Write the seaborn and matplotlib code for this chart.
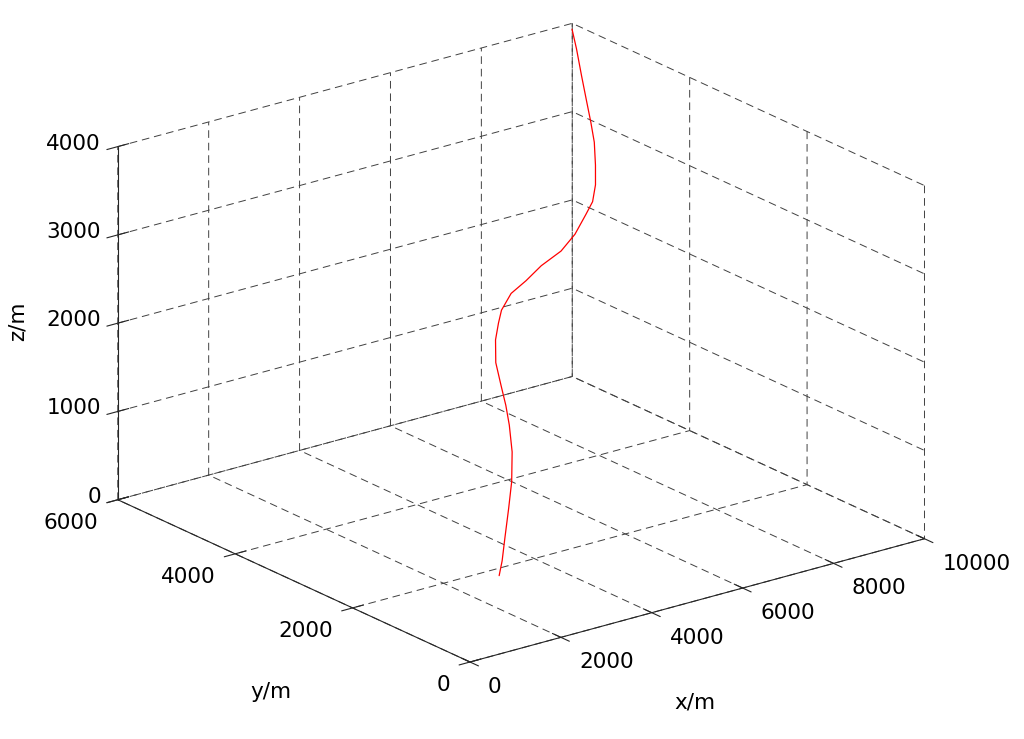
import matplotlib
matplotlib.use("Agg")
import matplotlib.pyplot as plt
import seaborn as sns
from mpl_toolkits.mplot3d import proj3d

# trajectory (metres)
x_m = [3000, 3200, 3480, 3850, 4180, 4500, 4750, 4910, 5060, 5230, 5470, 5690, 5870, 6180,
       6520, 6890, 7320, 7690, 8050, 8280, 8500, 8710, 8940, 9100, 9260, 9470, 9690, 9840]
y_m = [1826, 1930, 2100, 2322, 2526, 2766, 3008, 3191, 3389, 3610, 3800, 3920, 4008, 4084,
       4093, 4121, 4116, 4166, 4259, 4322, 4443, 4606, 4804, 4986, 5178, 5431, 5687, 5880]
z_m = [0, 108, 275, 492, 687, 904, 1099, 1244, 1389, 1555, 1721, 1844, 1938, 2061,
       2155, 2264, 2372, 2495, 2640, 2734, 2857, 3002, 3168, 3313, 3457, 3653, 3848, 3993]

x_ticks = [0, 2000, 4000, 6000, 8000, 10000]
y_ticks = [0, 2000, 4000, 6000]
z_ticks = [0, 1000, 2000, 3000, 4000]

sns.set_style("white")
plt.rcParams['font.family'] = ['DejaVu Sans']
plt.rcParams['lines.scale_dashes'] = False

W, H = 1024, 739
fig = plt.figure(figsize=(W / 100, H / 100), dpi=100)
ax = fig.add_axes([0, 0, 1, 1], projection='3d', proj_type='ortho')
ax.plot(x_m, y_m, z_m, color='red', lw=0.9)

ax.set_xlim(0, 10000)
ax.set_ylim(0, 6000)
ax.set_zlim(0, 4000)
ax.set_xticks(x_ticks)
ax.set_yticks(y_ticks)
ax.set_zticks(z_ticks)
ax.set_xticklabels([])
ax.set_yticklabels([])
ax.set_zticklabels([])
ax.view_init(elev=20.7, azim=-127.5)
aspect = (1, 1.01, 0.659)
ax.set_box_aspect(aspect)

for axis in (ax.xaxis, ax.yaxis, ax.zaxis):
    axis.set_pane_color((1, 1, 1, 0))
    axis.pane.set_edgecolor('none')
    axis._axinfo['grid'].update(color='0.25', linewidth=0.7, linestyle=(0, (5.5, 3.5)))
    axis._axinfo['axisline']['color'] = '0.15'
    axis.line.set_color('0.15')
    axis.line.set_linewidth(0.8)
    axis._axinfo['tick']['inward_factor'] = 0.3
    axis._axinfo['tick']['outward_factor'] = 0.3
    axis._axinfo['tick']['linewidth'] = {True: 0.8, False: 0.5}
    axis._axinfo['tick']['color'] = '0.15'


def to_px(x, y, z):
    # 3d data point -> image pixel (y pointing down)
    xs, ys, _ = proj3d.proj_transform(x, y, z, ax.get_proj())
    px, py = ax.transData.transform((xs, ys))
    return px, H - py


# scale and place the box like the original
fig.canvas.draw()
left = to_px(0, 6000, 0)[0]
right = to_px(10000, 0, 0)[0]
ax.set_box_aspect(aspect, zoom=(925 - 118.3) / (right - left))
fig.canvas.draw()
fx, fy = to_px(0, 0, 0)
ax.set_position([(470 - fx) / W, (fy - 662) / H, 1, 1])
fig.canvas.draw()

fs = 15.5


def put(px, py, s, **kw):
    fig.text(px / W, 1 - py / H, s, fontsize=fs, color='black', **kw)


for v in z_ticks:
    px, py = to_px(0, 6000, v)
    put(px - 17, py - 3, str(v), ha='right', va='center')
for v in y_ticks:
    px, py = to_px(0, v, 0)
    put(px - 20, py + 23, str(v), ha='right', va='center')
for v in x_ticks:
    px, py = to_px(v, 0, 0)
    put(px + 18, py + 25, str(v), ha='left', va='center')

px, py = to_px(5000, 0, 0)
put(px - 2, py + 102, 'x/m', ha='center', va='center')
px, py = to_px(0, 3000, 0)
put(px - 23, py + 111, 'y/m', ha='center', va='center')
px, py = to_px(0, 6000, 2000)
put(px - 100, py - 2, 'z/m', ha='center', va='center', rotation=90)

fig.savefig('out.png', dpi=100)
